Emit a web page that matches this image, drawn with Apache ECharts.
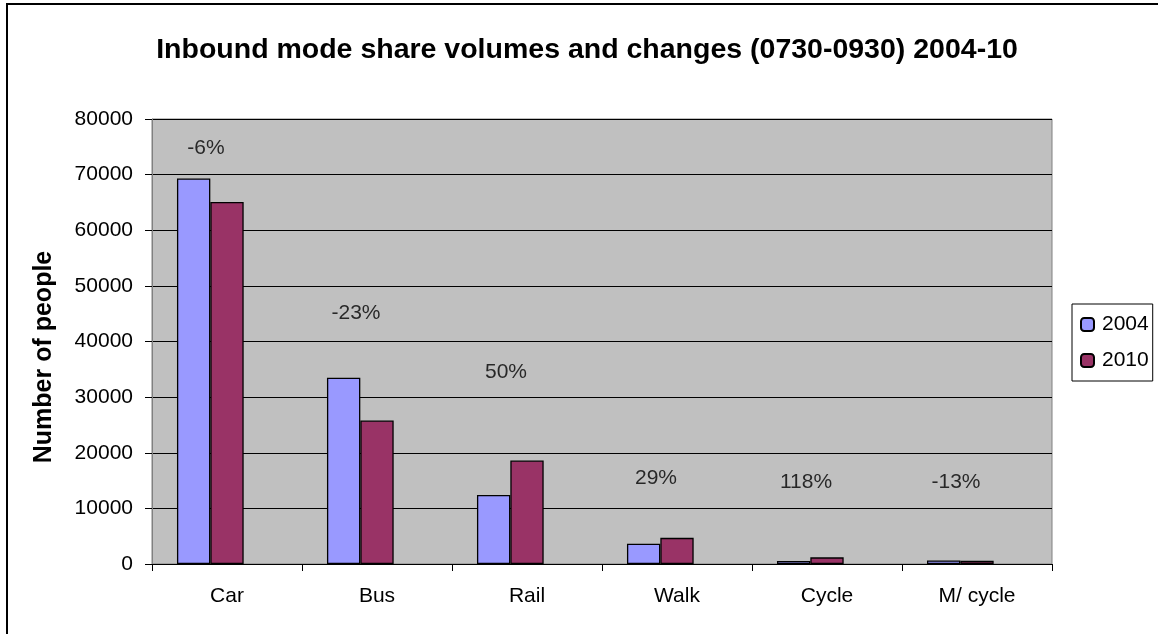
<!DOCTYPE html>
<html>
<head>
	<meta charset="utf-8">
	<title>Inbound mode share</title>
	<script type="text/javascript" src="https://cdn.jsdelivr.net/npm/echarts@6/dist/echarts.min.js"></script>
	<style>body{margin:0;background:#fff}</style>
</head>
<body>
<div id="main" style="width: 1158px; height: 634px"></div>

<script type="text/javascript">
var myChart = echarts.init(document.getElementById('main'));

var modes = ['Car', 'Bus', 'Rail', 'Walk', 'Cycle', 'M/ cycle'];
var people2004 = [69300, 33500, 12400, 3650, 550, 650];
var people2010 = [65100, 25800, 18600, 4700, 1200, 570];
var changeText = ['-6%', '-23%', '50%', '29%', '118%', '-13%'];
// heights (in axis units) where the change labels sit
var changeY = [74800, 45100, 34500, 15400, 14700, 14700];

var font = 'Liberation Sans, Arial, sans-serif';

var changeData = modes.map(function (m, i) {
    return [m, changeY[i], changeText[i]];
});

option = {
    animation: false,
    textStyle: {fontFamily: font},
    title: {
        text: 'Inbound mode share volumes and changes (0730-0930) 2004-10',
        left: 582,
        textAlign: 'center',
        top: 31,
        textStyle: {fontFamily: font, fontSize: 28.5, fontWeight: 'bold', color: '#000'}
    },
    graphic: [{
        type: 'rect',
        shape: {x: 7, y: 4, width: 1170, height: 650},
        style: {fill: 'none', stroke: '#000', lineWidth: 2},
        silent: true
    }, {
        type: 'text',
        x: 44,
        y: 357,
        rotation: Math.PI / 2,
        style: {
            text: 'Number of people',
            font: 'bold 25px Liberation Sans, Arial, sans-serif',
            fill: '#000',
            align: 'center',
            verticalAlign: 'middle'
        },
        silent: true
    }],
    legend: {
        data: ['2004', '2010'],
        orient: 'vertical',
        left: 1072,
        top: 304,
        padding: [10, 4, 10, 8],
        itemGap: 15,
        itemWidth: 13,
        itemHeight: 13,
        borderColor: '#000',
        borderWidth: 1,
        textStyle: {fontFamily: font, fontSize: 21, lineHeight: 21, color: '#000', padding: [0, 0, 0, 3]}
    },
    grid: {
        left: 152,
        right: 106,
        top: 119,
        bottom: 70,
        show: true,
        backgroundColor: '#C0C0C0',
        borderColor: '#808080',
        borderWidth: 1
    },
    xAxis: {
        type: 'category',
        data: modes,
        axisLine: {lineStyle: {color: '#000'}},
        axisTick: {show: true, length: 7, lineStyle: {color: '#000'}},
        axisLabel: {color: '#000', fontSize: 21, margin: 22, fontFamily: font},
        splitLine: {show: false}
    },
    yAxis: {
        type: 'value',
        min: 0,
        max: 80000,
        interval: 10000,
        axisLine: {show: true, lineStyle: {color: '#808080'}},
        axisTick: {show: true, length: 7, lineStyle: {color: '#000'}},
        axisLabel: {
            color: '#000', fontSize: 21, margin: 19, fontFamily: font,
            formatter: function (v) { return String(v); }
        },
        splitLine: {lineStyle: {color: '#000', width: 1}}
    },
    series: [
        {
            name: '2004',
            type: 'bar',
            data: people2004,
            barGap: '0%',
            barCategoryGap: '33.3%',
            itemStyle: {color: '#9999FF', borderColor: '#000', borderWidth: 1.3}
        },
        {
            name: '2010',
            type: 'bar',
            data: people2010,
            itemStyle: {color: '#993366', borderColor: '#000', borderWidth: 1.3}
        },
        {
            // empty slot, keeps the bar pairs left of centre as in the original
            name: 'spacer',
            type: 'bar',
            data: modes.map(function () { return '-'; }),
            itemStyle: {color: 'transparent'}
        },
        {
            name: 'change',
            type: 'scatter',
            data: changeData,
            symbolSize: 1,
            itemStyle: {color: 'transparent'},
            label: {
                show: true,
                position: 'inside',
                offset: [-21, 0],
                fontSize: 21,
                fontFamily: font,
                color: '#000',
                formatter: function (p) { return p.data[2]; }
            },
            z: 5
        }
    ]
};

myChart.setOption(option);
</script>
</body>
</html>
